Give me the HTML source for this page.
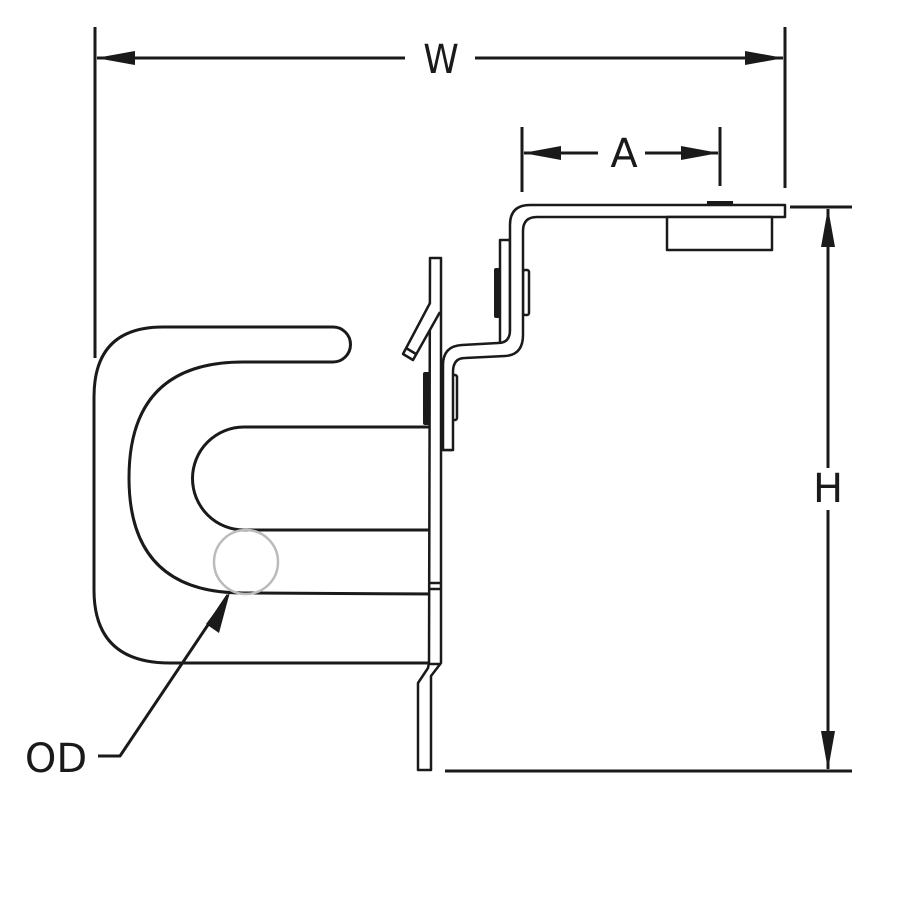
<!DOCTYPE html>
<html><head><style>html,body{margin:0;padding:0;background:#fff}svg{display:block}</style></head>
<body>
<svg width="900" height="900" viewBox="0 0 900 900" xmlns="http://www.w3.org/2000/svg">
<rect width="900" height="900" fill="#fff"/>
<g stroke="#1a1a1a" stroke-width="3" fill="none" stroke-linecap="butt" stroke-linejoin="round">
<!-- W dimension -->
<line x1="95" y1="27" x2="95" y2="358"/>
<line x1="785" y1="27" x2="785" y2="188"/>
<line x1="97" y1="58" x2="405" y2="58"/>
<line x1="475" y1="58" x2="783" y2="58"/>
<!-- A dimension -->
<line x1="522" y1="127" x2="522" y2="192"/>
<line x1="720" y1="127" x2="720" y2="186"/>
<line x1="524" y1="153" x2="598" y2="153"/>
<line x1="645" y1="153" x2="718" y2="153"/>
<!-- H dimension -->
<line x1="790" y1="207" x2="852" y2="207"/>
<line x1="445" y1="771" x2="852" y2="771"/>
<line x1="828" y1="209" x2="828" y2="468"/>
<line x1="828" y1="510" x2="828" y2="769"/>
<!-- OD leader -->
<polyline points="98,756 120,756 228,595"/>

<!-- Hook -->
<path d="M440,663 L170,663 Q94,663 94,590 L94,397 Q94,327 163,327 L333,327 A17.5,17.5 0 0 1 333,362 L243,362 Q129,362 129,478 Q129,593 243,593 L440,594"/>
<path d="M440,427 L244,427 A51.5,51.5 0 0 0 244,530 L440,530"/>
</g>
<circle cx="246" cy="562" r="32" fill="none" stroke="#bbb" stroke-width="2.5"/>

<g stroke="#1a1a1a" stroke-width="2.5" fill="#fff" stroke-linejoin="round">
<!-- lower Z plate -->
<path d="M443,360 L443,450 L452,450 L452,360 Z"/>
<rect x="452" y="375" width="5" height="45" rx="2"/>
<!-- main vertical plate -->
<path d="M430,258 L441,258 L441,663 L431,676 L431,770 L418,770 L418,683 L428,668 L429,663 Z"/>
<line x1="429" y1="583" x2="441" y2="583"/>
<line x1="429" y1="589" x2="441" y2="589"/>
<line x1="429" y1="664" x2="441" y2="664"/>
<!-- tab -->
<path d="M430,303 L403,354 L413,360 L440,312"/>
<line x1="406" y1="348" x2="416" y2="354"/>
<!-- upper back plate -->
<rect x="500" y="240" width="10" height="105"/>
<rect x="523" y="270" width="6" height="45" rx="2"/>
<!-- Z bracket -->
<path d="M785,205 L785,217 L537,217 Q523,217 523,231 L523,335 Q523,355 505,356 L465,358 Q453,358 453,372 L453,450 L443,450 L443,365 Q443,346 462,345 L498,343 Q510,343 510,330 L510,225 Q510,205 530,205 Z"/>
<!-- block -->
<rect x="667" y="217" width="105" height="33"/>
</g>
<g fill="#1a1a1a">
<rect x="494" y="268" width="6" height="50" rx="2"/>
<rect x="423" y="372" width="7" height="53" rx="2"/>
<rect x="707" y="201" width="26" height="4"/>
<!-- arrowheads -->
<polygon points="96,58 135,51 135,65"/>
<polygon points="784,58 745,51 745,65"/>
<polygon points="523,153 561,146 561,160"/>
<polygon points="719,153 681,146 681,160"/>
<polygon points="828,208 821,247 835,247"/>
<polygon points="828,770 821,731 835,731"/>
<polygon points="230,592 206,624 219,633"/>
</g>
<g font-family="'DejaVu Sans','Liberation Sans',sans-serif" font-size="40" fill="#1a1a1a" text-anchor="middle">
<text x="441" y="73" font-weight="normal" style="font-stretch:condensed">W</text>
<text x="624" y="167">A</text>
<text x="828" y="502">H</text>
<text x="56" y="772">OD</text>
</g>
</svg>
</body></html>
